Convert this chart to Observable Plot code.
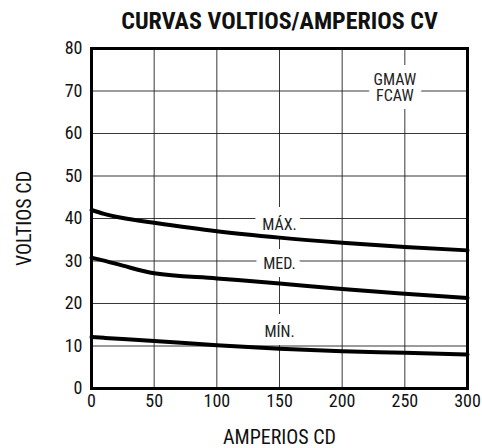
<!DOCTYPE html>
<html>
<head>
<meta charset="utf-8">
<script src="https://cdn.jsdelivr.net/npm/d3@7"></script>
<script src="https://cdn.jsdelivr.net/npm/@observablehq/plot@0.6"></script>
<style>
  html, body { margin: 0; padding: 0; background: #fff; }
  svg text { font-stretch: condensed; }
</style>
</head>
<body>
<div id="chart"></div>
<script>
const title = "CURVAS VOLTIOS/AMPERIOS CV";
const xLabel = "AMPERIOS CD";
const yLabel = "VOLTIOS CD";
const xTicks = [0, 50, 100, 150, 200, 250, 300];
const yTicks = [0, 10, 20, 30, 40, 50, 60, 70, 80];

const amps = [0, 10, 25, 50, 100, 150, 200, 250, 300];
const voltMax = [42.0, 41.1, 40.1, 39.0, 37.0, 35.5, 34.3, 33.3, 32.5];
const voltMed = [30.8, 30.1, 28.9, 27.1, 25.9, 24.7, 23.4, 22.3, 21.3];
const voltMin = [12.1, 11.92, 11.65, 11.2, 10.2, 9.35, 8.75, 8.4, 8.0];

const labelText = ["MÁX.", "MED.", "MÍN.", "GMAW", "FCAW"];
const labelX = [150, 150, 150, 242, 242];
const labelY = [38.4, 29.3, 13.3, 72.6, 68.9];

const series = [
  {name: "max", v: voltMax},
  {name: "med", v: voltMed},
  {name: "min", v: voltMin}
];
const rows = series.flatMap(s => amps.map((a, i) => ({serie: s.name, a, v: s.v[i]})));
const labels = labelText.map((t, i) => ({t, x: labelX[i], y: labelY[i]}));

const font = "'Roboto Condensed', Roboto, sans-serif";

const chart = Plot.plot({
  width: 482,
  height: 448,
  marginTop: 48,
  marginBottom: 60,
  marginLeft: 91,
  marginRight: 15,
  style: {fontFamily: font, fontSize: "18px", color: "#111", background: "#fff", overflow: "visible"},
  x: {domain: [0, 300], ticks: xTicks},
  y: {domain: [0, 80], ticks: yTicks},
  marks: [
    Plot.gridX(xTicks, {stroke: "#222", strokeOpacity: 0.9, strokeWidth: 1}),
    Plot.gridY(yTicks, {stroke: "#222", strokeOpacity: 0.9, strokeWidth: 1}),
    Plot.axisX(xTicks, {tickSize: 0, tickPadding: 6, label: null, fontSize: 18}),
    Plot.axisY(yTicks, {tickSize: 0, tickPadding: 9, label: null, fontSize: 18}),
    Plot.text(labels, {x: "x", y: "y", text: "t", fontSize: 16, fill: "white",
      stroke: "white", strokeWidth: 16, strokeLinejoin: "round"}),
    Plot.text(labels, {x: "x", y: "y", text: "t", fontSize: 16, fill: "#222"}),
    Plot.line(rows, {x: "a", y: "v", z: "serie", stroke: "black", strokeWidth: 4, curve: "monotone-x"}),
    Plot.frame({stroke: "black", strokeWidth: 3}),
    Plot.text([title], {frameAnchor: "top", lineAnchor: "middle", dy: -27, fontSize: 24, fontWeight: "bold", fill: "#111"}),
    Plot.text([xLabel], {frameAnchor: "bottom", lineAnchor: "middle", dy: 49, fontSize: 20, fill: "#111"}),
    Plot.text([yLabel], {frameAnchor: "left", textAnchor: "middle", lineAnchor: "middle", dx: -67, rotate: -90, fontSize: 20, fill: "#111"})
  ]
});
document.getElementById("chart").append(chart);
</script>
</body>
</html>
